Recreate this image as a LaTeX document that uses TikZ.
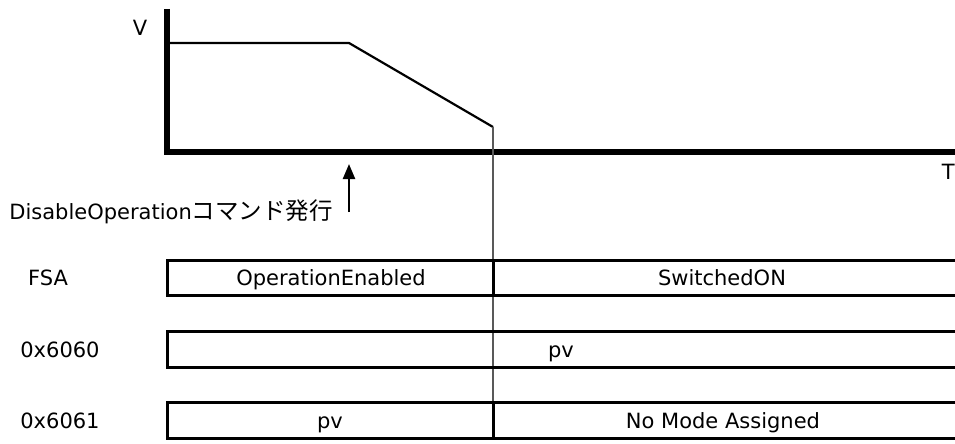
\documentclass[tikz,border=0pt]{standalone}
\usepackage{fontspec}
\setmainfont{DejaVu Sans}
\newfontfamily\jpfont{Noto Sans CJK JP}
\usetikzlibrary{arrows.meta}

\tikzset{
	axis/.style={line width=5.5pt},
	wave/.style={line width=2.2pt},
	cellrow/.style={line width=3pt},
	lbl/.style={inner sep=0pt,anchor=base,font=\fontsize{21}{24}\selectfont}
}

\begin{document}
\begin{tikzpicture}[x=1pt,y=-1pt]
	\useasboundingbox (0,0) rectangle (955,444);
	
	% axes
	\coordinate (o) at (167, 152);
	\coordinate (ytop) at (167, 9);
	\coordinate (xend) at (960, 152);
	\draw[axis] (ytop) -- (o) -- (xend);
	\node[lbl] (v) at (140, 36) {V};
	\node[lbl,anchor=base east] (t) at (955, 179) {T};
	
	% speed curve
	\coordinate (p0) at (169, 43);
	\coordinate (p1) at (349, 43);
	\coordinate (p2) at (493, 127);
	\coordinate (p3) at (493, 437);
	\draw[wave] (p0) -- (p1) -- (p2);
	\draw[gray!70!black,line width=1.3pt] (p2) -- (p3);
	
	% command
	\coordinate (cmdlow) at (349, 212);
	\coordinate (cmdtop) at (349, 164);
	\draw[line width=2.4pt,-{Triangle[width=12pt,length=15pt]}] (cmdlow) -- (cmdtop);
	\node[lbl,anchor=base east] (cmd) at (333, 219) {DisableOperation{\jpfont\fontsize{23.5}{26}\selectfont コマンド発行}};
	
	% FSA
	\node[lbl] (fsa) at (48, 285) {FSA};
	\draw[cellrow] (960, 260) -- (167, 260) -- (167, 295) -- (960, 295);
	\draw[cellrow] (493, 260) -- (493, 295);
	\node[lbl] (oe) at (331, 285) {OperationEnabled};
	\node[lbl] (so) at (722, 285) {SwitchedON};
	
	% 0x6060
	\node[lbl] (r6060) at (60, 357) {0x6060};
	\draw[cellrow] (960, 331) -- (167, 331) -- (167, 367) -- (960, 367);
	\node[lbl] (pva) at (561, 357) {pv};
	
	% 0x6061
	\node[lbl] (r6061) at (60, 428) {0x6061};
	\draw[cellrow] (960, 402) -- (167, 402) -- (167, 438) -- (960, 438);
	\draw[cellrow] (493, 402) -- (493, 438);
	\node[lbl] (pvb) at (330, 428) {pv};
	\node[lbl] (nm) at (723, 428) {No Mode Assigned};
	
\end{tikzpicture}
\end{document}
